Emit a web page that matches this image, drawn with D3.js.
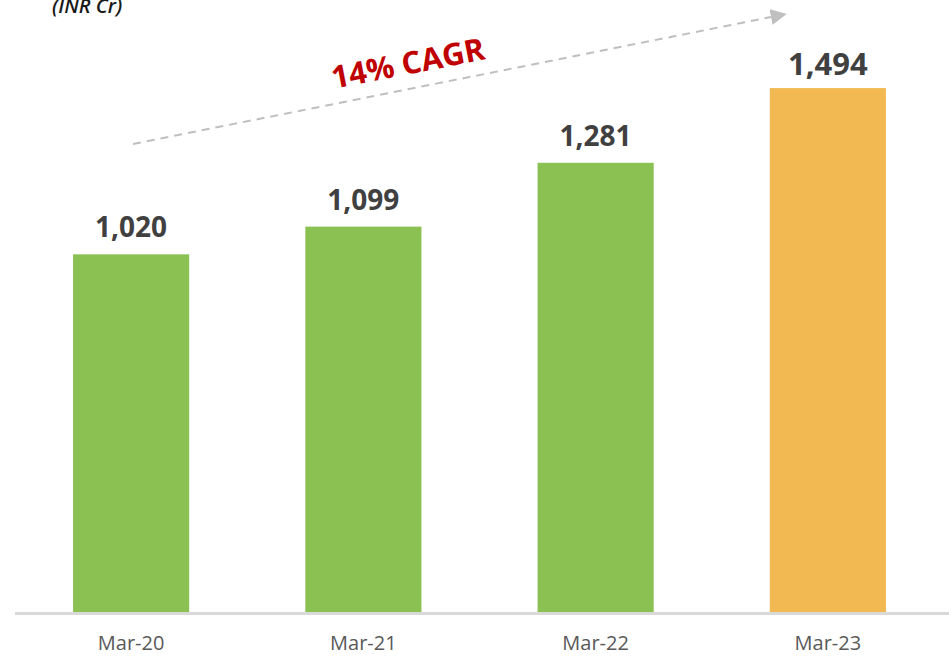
<!DOCTYPE html>
<html>
<head>
<meta charset="utf-8">
<script src="https://cdn.jsdelivr.net/npm/d3@7"></script>
<style>
  html, body { margin: 0; padding: 0; background: #fff; }
  svg { display: block; font-family: "Open Sans", "Noto Sans", sans-serif; }
</style>
</head>
<body>
<svg id="chart" width="949" height="657"></svg>
<script>
const categories = ["Mar-20", "Mar-21", "Mar-22", "Mar-23"];
const values = [1020, 1099, 1281, 1494];
const valueLabels = ["1,020", "1,099", "1,281", "1,494"];
const barColors = ["#8bc053", "#8bc053", "#8bc053", "#f2b852"];
const unitLabel = "(INR Cr)";
const cagrLabel = "14% CAGR";

const svg = d3.select("#chart");
const W = 949, H = 657;
const baseY = 612;

const x = d3.scaleBand().domain(categories).range([15, 944]).paddingInner(0.5).paddingOuter(0.25);
const y = d3.scaleLinear().domain([0, 1500]).range([baseY, baseY - 526]);

// bars
svg.append("g").selectAll("rect").data(values).join("rect")
  .attr("x", (d, i) => x(categories[i]))
  .attr("width", x.bandwidth())
  .attr("y", d => y(d))
  .attr("height", d => y(0) - y(d))
  .attr("fill", (d, i) => barColors[i]);

// axis line
svg.append("line")
  .attr("x1", 15).attr("x2", W)
  .attr("y1", baseY + 1.5).attr("y2", baseY + 1.5)
  .attr("stroke", "#d9d9d9").attr("stroke-width", 3);

// category labels
svg.append("g").selectAll("text").data(categories).join("text")
  .attr("x", d => x(d) + x.bandwidth() / 2)
  .attr("y", 650)
  .attr("text-anchor", "middle")
  .attr("font-size", 20)
  .attr("fill", "#595959")
  .text(d => d);

// value labels
svg.append("g").selectAll("text").data(values).join("text")
  .attr("x", (d, i) => x(categories[i]) + x.bandwidth() / 2)
  .attr("y", (d, i) => y(d) - (i === 3 ? 13 : 17))
  .attr("text-anchor", "middle")
  .attr("font-size", (d, i) => i === 3 ? 31 : 28)
  .attr("font-weight", 700)
  .attr("fill", "#404040")
  .text((d, i) => valueLabels[i]);

// unit label
svg.append("text")
  .attr("x", 52).attr("y", 13)
  .attr("font-size", 20)
  .attr("font-style", "italic")
  .attr("font-weight", 600)
  .attr("fill", "#1a1a1a")
  .text(unitLabel);

// CAGR arrow
const defs = svg.append("defs");
defs.append("marker")
  .attr("id", "arrow")
  .attr("viewBox", "0 0 10 10")
  .attr("refX", 0).attr("refY", 5)
  .attr("markerWidth", 8).attr("markerHeight", 8)
  .attr("markerUnits", "strokeWidth")
  .attr("orient", "auto")
  .append("path").attr("d", "M0,0 L10,5 L0,10 Z").attr("fill", "#bfbfbf");

svg.append("line")
  .attr("x1", 133).attr("y1", 144)
  .attr("x2", 771).attr("y2", 17)
  .attr("stroke", "#bfbfbf").attr("stroke-width", 2)
  .attr("stroke-dasharray", "8,6")
  .attr("marker-end", "url(#arrow)");

svg.append("text")
  .attr("transform", "translate(410,74) rotate(-11)")
  .attr("text-anchor", "middle")
  .attr("font-size", 31)
  .attr("font-weight", 700)
  .attr("fill", "#c00000")
  .text(cagrLabel);
</script>
</body>
</html>
